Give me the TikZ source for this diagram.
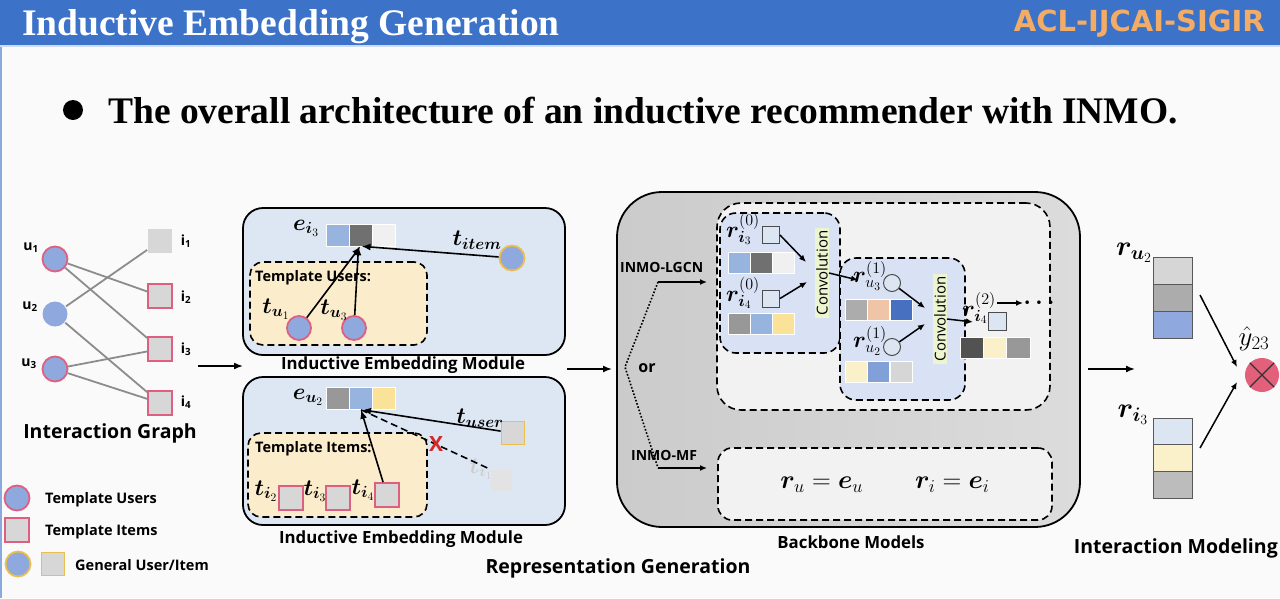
\RequirePackage{fix-cm}
\documentclass[tikz,border=0pt]{standalone}
\usepackage{bm}
\usepackage{fontspec}
\usetikzlibrary{arrows.meta,calc}
\newfontfamily\titlefont{Liberation Serif}
\newfontfamily\labfont{Open Sans}
\newfontfamily\aclfont{DejaVu Sans}
\definecolor{hdrblue}{RGB}{60,114,200}
\definecolor{aclorange}{RGB}{242,172,102}
\definecolor{pagebg}{RGB}{250,250,250}
\definecolor{ublue}{RGB}{143,168,222}
\definecolor{pinkb}{RGB}{222,96,128}
\definecolor{igray}{RGB}{215,215,215}
\definecolor{yelb}{RGB}{235,190,80}
\definecolor{modblue}{RGB}{221,231,244}
\definecolor{tmplyel}{RGB}{251,236,204}
\definecolor{bbL}{RGB}{203,203,203}
\definecolor{bbR}{RGB}{220,220,220}
\definecolor{ingray}{RGB}{242,242,242}
\definecolor{convblue}{RGB}{216,226,244}
\definecolor{convgreen}{RGB}{236,244,208}
\definecolor{cLblue}{RGB}{150,180,222}
\definecolor{cDgray}{RGB}{112,112,112}
\definecolor{cWhite}{RGB}{240,240,240}
\definecolor{cGray}{RGB}{152,152,152}
\definecolor{cYel}{RGB}{250,226,152}
\definecolor{cPeach}{RGB}{240,196,166}
\definecolor{cBlue}{RGB}{72,112,192}
\definecolor{cCream}{RGB}{250,240,202}
\definecolor{cMblue}{RGB}{130,160,216}
\definecolor{cLgray}{RGB}{214,214,214}
\definecolor{cVdgray}{RGB}{82,82,82}
\definecolor{cPale}{RGB}{220,230,243}
\definecolor{cSgray}{RGB}{172,172,172}
\definecolor{otpink}{RGB}{226,96,122}
\definecolor{xred}{RGB}{215,40,40}
\tikzset{
  lab/.style={font=\labfont\bfseries\fontsize{19.5}{22}\selectfont, inner sep=0pt},
  labm/.style={font=\labfont\bfseries\fontsize{16.8}{19}\selectfont, inner sep=0pt},
  labs/.style={font=\labfont\bfseries\fontsize{14.5}{17}\selectfont, inner sep=0pt},
  labt/.style={font=\labfont\bfseries\fontsize{14}{16}\selectfont, inner sep=0pt},
  mth/.style={font=\fontsize{23}{27}\selectfont, inner sep=0pt},
  ucirc/.style={circle, minimum size=25pt, inner sep=0pt, fill=ublue, draw=pinkb, line width=1.8pt},
  gcirc/.style={circle, minimum size=25pt, inner sep=0pt, fill=ublue, draw=yelb, line width=1.8pt},
  isq/.style={rectangle, minimum size=24pt, inner sep=0pt, fill=igray, draw=pinkb, line width=1.8pt},
  gsq/.style={rectangle, minimum size=23pt, inner sep=0pt, fill=igray, draw=yelb, line width=1.8pt},
  edge/.style={draw=gray!90, line width=1.8pt},
  arr/.style={-{Latex[length=9pt,width=7pt]}, line width=1.6pt},
  sarr/.style={-{Latex[length=7pt,width=6pt]}, line width=1.5pt},
  mbox/.style={rectangle, rounded corners=20pt, draw=black, line width=1.8pt, fill=modblue, inner sep=0pt},
  dbox/.style={rectangle, draw=black, line width=1.6pt, dash pattern=on 7pt off 4pt, inner sep=0pt},
  cellh/.style={rectangle, minimum width=23pt, minimum height=22pt, inner sep=0pt, draw=white, line width=0.6pt},
  cellr/.style={rectangle, minimum width=22pt, minimum height=21pt, inner sep=0pt, draw=white, line width=0.6pt},
  cellv/.style={rectangle, minimum width=39pt, minimum height=27pt, inner sep=0pt, draw=gray!70!black, line width=0.8pt},
  smsq/.style={rectangle, minimum size=17pt, inner sep=0pt, draw=gray!60!black, line width=1pt, fill=cPale},
  smci/.style={circle, minimum size=17pt, inner sep=0pt, draw=gray!60!black, line width=1pt, fill=cPale},
  convl/.style={rotate=90, fill=convgreen, inner xsep=3pt, inner ysep=1pt, font=\labfont\fontsize{15}{16}\selectfont}
}
\begin{document}
\begin{tikzpicture}[x=1pt,y=-1pt]
\useasboundingbox (0,0) rectangle (1280,598);
\fill[pagebg] (0,0) rectangle (1280,598);
\fill[hdrblue] (0,0) rectangle (1280,45);
\fill[hdrblue!25] (0,45) rectangle (1280,47);
\fill[hdrblue!60] (0,47) rectangle (2,598);
\node[anchor=base west, inner sep=0pt, text=white, font=\titlefont\bfseries\fontsize{37.5}{40}\selectfont] (title) at (22,35) {Inductive Embedding Generation};
\node[anchor=base east, inner sep=0pt, text=aclorange, font=\aclfont\bfseries\fontsize{29}{30}\selectfont] (acl) at (1265,31) {ACL-IJCAI-SIGIR};
\node[circle, fill=black, minimum size=20pt, inner sep=0pt] (bul) at (73,110) {};
\node[anchor=base west, inner sep=0pt, font=\titlefont\bfseries\fontsize{37.5}{40}\selectfont] (sub) at (108,123) {The overall architecture of an inductive recommender with INMO.};

% ---------- interaction graph
\node[ucirc] (u1) at (55,259) {};
\node[ucirc, draw=none] (u2) at (55,314) {};
\node[ucirc] (u3) at (55,369) {};
\node[isq, draw=none] (i1) at (160,241) {};
\node[isq] (i2) at (160,296) {};
\node[isq] (i3) at (160,349) {};
\node[isq] (i4) at (160,403) {};
\foreach \a/\b in {u1/i2,u1/i3,u2/i1,u2/i4,u3/i3,u3/i4} \draw[edge] (\a) -- (\b);
\node[labt] (lu1) at (31,248) {u\textsubscript{1}};
\node[labt] (lu2) at (30,307) {u\textsubscript{2}};
\node[labt] (lu3) at (29,364) {u\textsubscript{3}};
\node[labt] (li1) at (186,241) {i\textsubscript{1}};
\node[labt] (li2) at (186,297) {i\textsubscript{2}};
\node[labt] (li3) at (186,349) {i\textsubscript{3}};
\node[labt] (li4) at (186,402) {i\textsubscript{4}};
\node[lab] (igl) at (110,433) {Interaction Graph};

% ---------- legend
\node[ucirc] (lg1) at (17,498) {};
\node[labs, anchor=west] (lgt1) at (45,500) {Template Users};
\node[isq] (lg2) at (17,530) {};
\node[labs, anchor=west] (lgt2) at (45,532) {Template Items};
\node[gcirc] (lg3) at (18,564) {};
\node[gsq] (lg4) at (53,564) {};
\node[labs, anchor=west] (lgt3) at (75,565) {General User/Item};

\coordinate (g1) at (198,366);
\coordinate (g2) at (243,366);
\draw[arr] (g1) -- (g2);

% ---------- top inductive embedding module
\node[mbox, minimum width=322pt, minimum height=147pt] (m1) at (404,281.5) {};
\node[dbox, rounded corners=13pt, fill=tmplyel, minimum width=177pt, minimum height=83pt] (tu) at (338.5,303.5) {};
\node[labs, anchor=west] (tut) at (255,278) {Template Users:};
\node[cellh, fill=cLblue] (b1a) at (337.5,235) {};
\node[cellh, fill=cDgray] (b1m) at (360.5,235) {};
\node[cellh, fill=cWhite] (b1c) at (383.5,235) {};
\node[mth] (ei3) at (306,228) {$\bm{e}_{\bm{i}_3}$};
\node[ucirc, minimum size=24pt] (tu1) at (299,328) {};
\node[ucirc, minimum size=24pt] (tu3) at (354,328) {};
\node[gcirc, minimum size=25pt] (tit) at (512,258) {};
\node[mth] (ltu1) at (276,309) {$\bm{t}_{\bm{u}_1}$};
\node[mth] (ltu3) at (334,310) {$\bm{t}_{\bm{u}_3}$};
\node[mth] (ltit) at (477,240) {$\bm{t}_{\bm{item}}$};
\draw[arr] (tu1) -- (b1m.south);
\draw[arr] (tu3) -- ($(b1m.south)+(-2,0)$);
\draw[arr] (tit) -- ($(b1m.south)+(1,0)$);
\node[labm] (m1t) at (403,365) {Inductive Embedding Module};

% ---------- bottom inductive embedding module
\node[mbox, minimum width=322pt, minimum height=148pt] (m2) at (404,451) {};
\node[dbox, rounded corners=13pt, fill=tmplyel, minimum width=179pt, minimum height=84pt] (ti) at (337.5,475) {};
\node[labs, anchor=west] (tit2) at (255,449) {Template Items:};
\node[cellh, fill=cGray] (b2a) at (338,398.5) {};
\node[cellh, fill=cLblue] (b2m) at (361,398.5) {};
\node[cellh, fill=cYel] (b2c) at (384,398.5) {};
\node[mth] (eu2) at (308,397) {$\bm{e}_{\bm{u}_2}$};
\node[isq] (ti2) at (291,498) {};
\node[isq] (ti3) at (338,498) {};
\node[isq] (ti4) at (387,495) {};
\node[mth] (lti2) at (266,491) {$\bm{t}_{\bm{i}_2}$};
\node[mth] (lti3) at (315,491) {$\bm{t}_{\bm{i}_3}$};
\node[mth] (lti4) at (363,490) {$\bm{t}_{\bm{i}_4}$};
\node[gsq] (tus) at (513,433) {};
\node[mth] (ltus) at (480,418) {$\bm{t}_{\bm{user}}$};
\node[rectangle, minimum size=21pt, inner sep=0pt, fill=gray!22] (fsq) at (501,480) {};
\node[mth, text=gray!40] (lti1) at (481,469) {$\bm{t}_{\bm{i}_1}$};
\draw[line width=1.6pt, dash pattern=on 7pt off 4pt] (b2m.south) -- (fsq.north west);
\node[font=\labfont\bfseries\fontsize{21}{22}\selectfont, text=xred, inner sep=0pt] (xx) at (436,444) {X};
\draw[arr] (ti4) -- (b2m.south);
\draw[arr] (tus) -- ($(b2m.south)+(1,0)$);
\node[labm] (m2t) at (401,539) {Inductive Embedding Module};
\node[lab] (rgt) at (618,568) {Representation Generation};

\coordinate (g3) at (567,369);
\coordinate (g4) at (612,369);
\draw[arr] (g3) -- (g4);

% ---------- backbone models
\node[rectangle, rounded corners=45pt, draw=black, line width=1.8pt, left color=bbL, right color=bbR, minimum width=463pt, minimum height=335pt, inner sep=0pt] (bb) at (848.5,359.5) {};
\node[dbox, rounded corners=24pt, fill=ingray, minimum width=333pt, minimum height=207pt] (lg) at (883.5,306.5) {};
\node[dbox, rounded corners=16pt, fill=convblue, minimum width=120pt, minimum height=140pt] (cb1) at (780,283) {};
\node[dbox, rounded corners=16pt, fill=convblue, minimum width=125pt, minimum height=142pt] (cb2) at (902.5,329) {};
\node[dbox, rounded corners=14pt, fill=ingray, minimum width=334pt, minimum height=72pt] (mf) at (885,484) {};

% conv block 1
\node[mth] (r0i3) at (743,229) {$\bm{r}^{(0)}_{\bm{i}_3}$};
\node[smsq] (s1) at (771,235) {};
\node[cellr, fill=cLblue] (c11) at (739,262.5) {};
\node[cellr, fill=cDgray] (c12) at (761,262.5) {};
\node[cellr, fill=cWhite] (c13) at (783,262.5) {};
\node[mth] (r0i4) at (743,293) {$\bm{r}^{(0)}_{\bm{i}_4}$};
\node[smsq] (s2) at (771,298.5) {};
\node[cellr, fill=cGray] (c21) at (739,324) {};
\node[cellr, fill=cLblue] (c22) at (761,324) {};
\node[cellr, fill=cYel] (c23) at (783,324) {};
\node[convl] (conv1) at (822,273) {Convolution};
\coordinate (k1) at (806,262);
\coordinate (k2) at (807,282);
\draw[sarr] (s1.east) -- (k1);
\draw[sarr] (s2.east) -- (k2);
\coordinate (k3) at (858,280);
\draw[sarr] (conv1.south) -- (k3);

% conv block 2
\node[mth] (r1u3) at (870,276) {$\bm{r}^{(1)}_{u_3}$};
\node[smci] (ci1) at (892,283) {};
\node[cellr, fill=cSgray, minimum width=22.3pt] (d11) at (856,310) {};
\node[cellr, fill=cPeach, minimum width=22.3pt] (d12) at (878.5,310) {};
\node[cellr, fill=cBlue, minimum width=22.3pt] (d13) at (901,310) {};
\node[mth] (r1u2) at (870,341) {$\bm{r}^{(1)}_{u_2}$};
\node[smci] (ci2) at (892,347) {};
\node[cellr, fill=cCream, minimum width=22.3pt] (d21) at (856,372) {};
\node[cellr, fill=cMblue, minimum width=22.3pt] (d22) at (878.5,372) {};
\node[cellr, fill=cLgray, minimum width=22.3pt] (d23) at (901,372) {};
\node[convl] (conv2) at (940,319) {Convolution};
\coordinate (k4) at (925,308);
\coordinate (k5) at (925,324);
\draw[sarr] (ci1) -- (k4);
\draw[sarr] (ci2) -- (k5);
\coordinate (k6) at (973,322);
\draw[sarr] (conv2.south) -- (k6);

% output layer 2
\node[mth] (r2i4) at (979,308) {$\bm{r}^{(2)}_{\bm{i}_4}$};
\node[smsq, minimum size=18pt] (s3) at (997,321.5) {};
\coordinate (k7) at (997,303);
\coordinate (k8) at (1023,303);
\draw[sarr] (k7) -- (k8);
\node[mth] (dots) at (1039,303) {$\bm{\cdots}$};
\node[cellr, fill=cVdgray, minimum width=23.3pt] (e1) at (971.7,347.5) {};
\node[cellr, fill=cCream, minimum width=23.3pt] (e2) at (995,347.5) {};
\node[cellr, fill=cGray, minimum width=23.3pt] (e3) at (1018.3,347.5) {};

% variants
\node[labt, anchor=west] (lgcn) at (620,267) {INMO-LGCN};
\node[labt, anchor=west] (mft) at (631,455) {INMO-MF};
\coordinate (v1) at (658,282);
\coordinate (v2) at (625,367);
\coordinate (v3) at (658,468);
\coordinate (v4) at (707,282);
\coordinate (v5) at (707,468);
\draw[line width=1.6pt, dash pattern=on 1.6pt off 1.8pt] (v1) -- (v2) -- (v3);
\draw[sarr] (v1) -- (v4);
\draw[sarr] (v3) -- (v5);
\node[font=\labfont\bfseries\fontsize{16}{18}\selectfont, inner sep=0pt] (ort) at (647,368) {or};
\node[font=\fontsize{26}{30}\selectfont, inner sep=0pt] (form) at (885,485) {$\bm{r}_{u}=\bm{e}_{u}\qquad\bm{r}_{i}=\bm{e}_{i}$};
\node[labm] (bbt) at (851,542) {Backbone Models};

% ---------- interaction modelling
\coordinate (g5) at (1088,369);
\coordinate (g6) at (1135,369);
\draw[arr] (g5) -- (g6);
\node[cellv, fill=cLgray] (ru1) at (1172.5,270.5) {};
\node[cellv, fill=cSgray] (ru2) at (1172.5,297.5) {};
\node[cellv, fill=ublue] (ru3) at (1172.5,324.5) {};
\node[cellv, fill=cPale] (ri1) at (1172.5,431.5) {};
\node[cellv, fill=cCream] (ri2) at (1172.5,458) {};
\node[cellv, fill=cLgray!88!black] (ri3) at (1172.5,484.5) {};
\node[font=\fontsize{28}{32}\selectfont, inner sep=0pt] (lru) at (1134,253) {$\bm{r}_{\bm{u}_2}$};
\node[font=\fontsize{28}{32}\selectfont, inner sep=0pt] (lri) at (1133,415) {$\bm{r}_{\bm{i}_3}$};
\node[circle, fill=otpink, minimum size=34pt, inner sep=0pt] (ot) at (1262,375) {};
\draw[line width=1.3pt, black!80] (ot.north west) -- (ot.south east);
\draw[line width=1.3pt, black!80] (ot.north east) -- (ot.south west);
\node[font=\fontsize{27}{30}\selectfont, inner sep=0pt] (yh) at (1254,339) {$\hat{y}_{23}$};
\coordinate (h1) at (1200,295);
\coordinate (h2) at (1237,367);
\coordinate (h3) at (1200,448);
\coordinate (h4) at (1237,382);
\draw[sarr] (h1) -- (h2);
\draw[sarr] (h3) -- (h4);
\node[font=\labfont\bfseries\fontsize{19.5}{22}\selectfont, inner sep=0pt, anchor=east] (imt) at (1278,548) {Interaction Modeling};
\end{tikzpicture}
\end{document}
